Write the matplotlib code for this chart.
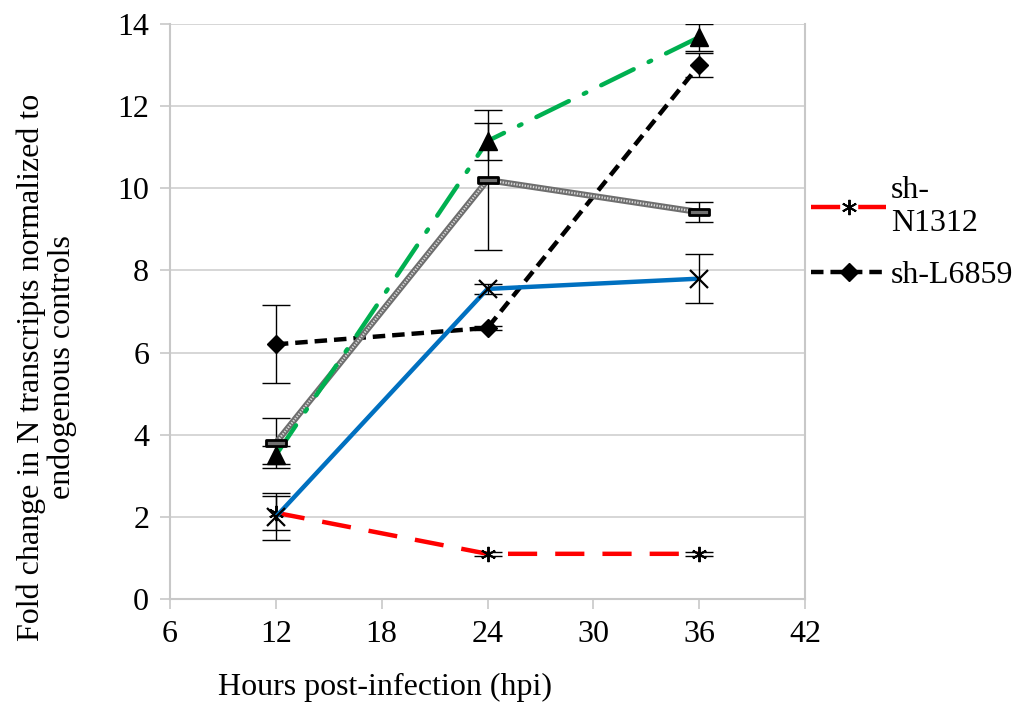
import matplotlib
matplotlib.use("Agg")
import matplotlib.pyplot as plt
from matplotlib.path import Path
import numpy as np

plt.rcParams['font.family'] = ['Liberation Serif', 'DejaVu Serif']
plt.rcParams['lines.scale_dashes'] = False

hours = [12, 24, 36]

red_vals = [2.1, 1.1, 1.1]
red_err = [0.42, 0.05, 0.05]
black_vals = [6.2, 6.6, 13.0]
black_err = [0.95, 0.05, 0.3]
blue_vals = [2.0, 7.55, 7.8]
blue_err = [0.57, 0.12, 0.6]
gray_vals = [3.8, 10.2, 9.42]
gray_err = [0.6, 1.7, 0.25]
green_vals = [3.5, 11.15, 13.68]
green_err = [0.22, 0.45, 0.33]

legend_labels = ["sh-\nN1312", "sh-L6859"]

FS = 23

fig = plt.figure(figsize=(10.17, 7.05), dpi=100)
ax = fig.add_axes([170/1017, 1-599/705, (805-170)/1017, (599-24)/705])

ax.set_xlim(6, 42)
ax.set_ylim(0, 14)
ax.set_xticks([6, 12, 18, 24, 30, 36, 42])
ax.set_yticks(range(0, 15, 2))
ax.yaxis.grid(True, color='#d0d0d0', lw=1.2)
ax.set_axisbelow(True)
for s in ['left', 'bottom', 'right']:
    ax.spines[s].set_color('#c8c8c8')
    ax.spines[s].set_linewidth(1.5)
ax.spines['top'].set_visible(False)
ax.tick_params(axis='both', colors='#c8c8c8', length=7, width=1.2, labelsize=FS,
               labelcolor='black', direction='out')
ax.tick_params(axis='x', pad=8)
ax.tick_params(axis='y', pad=8)

ekw = dict(ecolor='black', elinewidth=1.0, capsize=10, capthick=1.0)

# red
ax.errorbar(hours, red_vals, yerr=red_err, fmt='none', **ekw, zorder=3)
lr, = ax.plot(hours, red_vals, color='#ff0000', lw=3.2, dashes=(21, 13),
              marker=(6, 2, 0), markersize=11, markeredgecolor='black',
              markeredgewidth=1.4, zorder=4)
# black
ax.errorbar(hours, black_vals, yerr=black_err, fmt='none', **ekw, zorder=3)
lb, = ax.plot(hours, black_vals, color='black', lw=3.2, dashes=(9, 5),
              marker='D', markersize=9, markerfacecolor='black', zorder=4)
# blue
ax.errorbar(hours, blue_vals, yerr=blue_err, fmt='none', **ekw, zorder=3)
ax.plot(hours, blue_vals, color='#0070c0', lw=3.2, solid_capstyle='butt', zorder=4)
ax.plot(hours, blue_vals, ls='none', marker='x', markersize=13,
        markeredgecolor='black', markeredgewidth=1.6, zorder=5)
# gray textured
ax.errorbar(hours, gray_vals, yerr=gray_err, fmt='none', **ekw, zorder=3)
ax.plot(hours, gray_vals, color='#6e6e6e', lw=4.5, zorder=4)
ax.plot(hours, gray_vals, color='#d8d8d8', lw=1.6, dashes=(1, 1), zorder=4)
rect = Path([(-1, -0.3), (1, -0.3), (1, 0.3), (-1, 0.3), (-1, -0.3)],
            [Path.MOVETO, Path.LINETO, Path.LINETO, Path.LINETO, Path.CLOSEPOLY])
ax.plot(hours, gray_vals, ls='none', marker=rect, markersize=14,
        markerfacecolor='#707070', markeredgecolor='black', markeredgewidth=2.0, zorder=5)
# green
ax.errorbar(hours, green_vals, yerr=green_err, fmt='none', **ekw, zorder=3)
ax.plot(hours, green_vals, color='#00b050', lw=3.2, dashes=(26, 12, 2, 12),
        dash_capstyle='round', zorder=4)
ax.plot(hours, green_vals, ls='none', marker='^', markersize=13,
        markerfacecolor='black', markeredgecolor='black', zorder=6)

fig.legend([lr, lb], legend_labels, loc='upper left',
           bbox_to_anchor=(811/1017, 1-176/705), frameon=False, fontsize=FS,
           handlelength=2.35, handletextpad=0.15, labelspacing=0.7,
           borderaxespad=0, borderpad=0)

fig.text(385/1017, 1-687/705, "Hours post-infection (hpi)", ha='center', va='center',
         fontsize=FS)
fig.text(47/1017, 1-367/705,
         "Fold change in N transcripts normalized to\nendogenous controls",
         ha='center', va='center', rotation=90, fontsize=FS, linespacing=1.05)

fig.savefig("out.png", dpi=100)
